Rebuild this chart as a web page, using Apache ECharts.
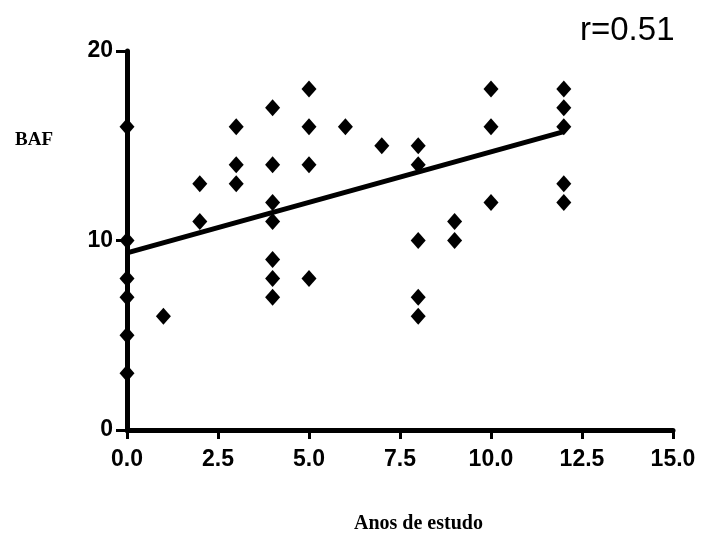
<!DOCTYPE html>
<html><head><meta charset="utf-8">
<script src="https://cdn.jsdelivr.net/npm/echarts@6/dist/echarts.min.js"></script>
<style>html,body{margin:0;padding:0;background:#fff}#c{width:704px;height:540px}</style>
</head><body><div id="c"></div>
<script>
// Years of study (x) and BAF score (y) for each subject
const anos = [0,0,0,0,0,0, 1, 2,2, 3,3,3, 4,4,4,4,4,4,4, 5,5,5,5, 6, 7, 8,8,8,8,8, 9,9, 10,10,10, 12,12,12,12,12];
const baf  = [16,10,8,7,5,3, 6, 13,11, 16,14,13, 17,14,12,11,9,8,7, 18,16,14,8, 16, 15, 15,14,10,7,6, 11,10, 18,16,12, 18,17,16,13,12];
// Regression line end points
const fitX = [0, 12];
const fitY = [9.35, 15.75];
const xTicks = [0, 2.5, 5, 7.5, 10, 12.5, 15];
const yTicks = [0, 10, 20];
const rText = 'r=0.51';

const pts = anos.map((x, i) => [x, baf[i]]);
const fit = fitX.map((x, i) => [x, fitY[i]]);

const chart = echarts.init(document.getElementById('c'), null, {renderer: 'canvas'});
const lblFont = {color: '#000', fontFamily: 'Liberation Sans, Arial, sans-serif', fontWeight: 'bold', fontSize: 23};
chart.setOption({
  animation: false,
  backgroundColor: '#fff',
  grid: {left: 127, right: 31, top: 51, bottom: 110, containLabel: false},
  xAxis: {
    type: 'value', min: xTicks[0], max: xTicks[xTicks.length - 1], interval: 2.5,
    axisLine: {lineStyle: {color: '#000', width: 5}},
    axisTick: {show: true, length: 9, lineStyle: {color: '#000', width: 3}},
    axisLabel: Object.assign({margin: 18, formatter: v => v.toFixed(1)}, lblFont),
    splitLine: {show: false}
  },
  yAxis: {
    type: 'value', min: yTicks[0], max: yTicks[yTicks.length - 1], interval: 10,
    axisLine: {show: true, lineStyle: {color: '#000', width: 5}},
    axisTick: {show: true, length: 11, lineStyle: {color: '#000', width: 3}},
    axisLabel: Object.assign({margin: 14, padding: [0, 0, 8, 0]}, lblFont),
    splitLine: {show: false}
  },
  graphic: [
    {type: 'text', left: 15, top: 131, style: {text: 'BAF', font: 'bold 19px "Liberation Serif", "Times New Roman", serif', fill: '#000'}},
    {type: 'text', left: 354, top: 514, style: {text: 'Anos de estudo', font: 'bold 20px "Liberation Serif", "Times New Roman", serif', fill: '#000'}},
    {type: 'text', left: 580, top: 14, style: {text: rText, font: '33px "Liberation Sans", Arial, sans-serif', fill: '#000'}}
  ],
  series: [
    {type: 'line', data: fit, showSymbol: false, symbol: 'none', lineStyle: {color: '#000', width: 5}, z: 3},
    {type: 'scatter', data: pts, symbol: 'diamond', symbolSize: [15, 17], itemStyle: {color: '#000', opacity: 1}, z: 4}
  ]
});
</script></body></html>
